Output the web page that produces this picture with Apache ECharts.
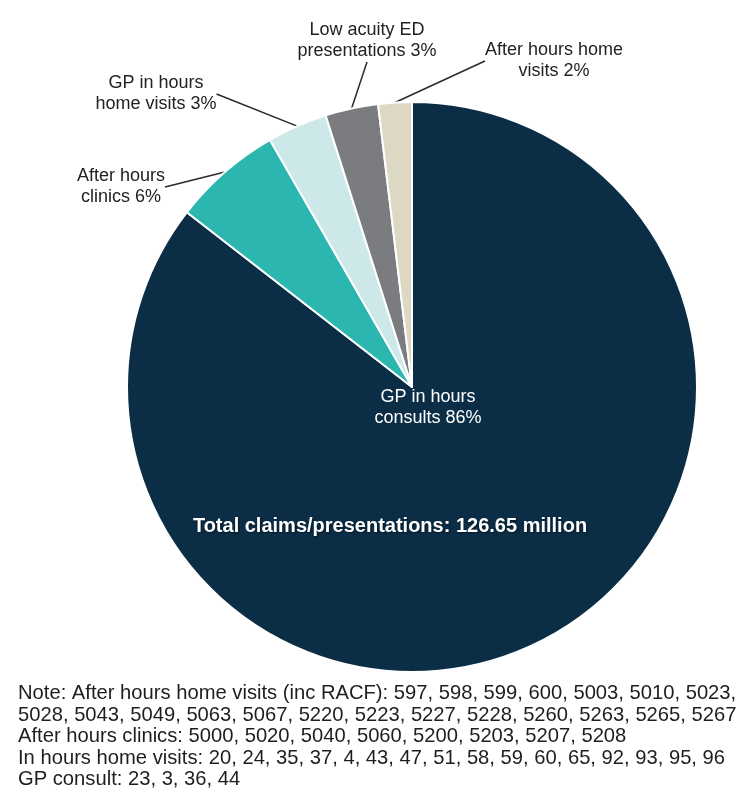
<!DOCTYPE html>
<html>
<head>
<meta charset="utf-8">
<script src="https://cdn.jsdelivr.net/npm/echarts@6/dist/echarts.min.js"></script>
<style>
  html, body { margin: 0; padding: 0; background: #ffffff; }
  #chart { width: 756px; height: 798px; }
</style>
</head>
<body>
<div id="chart"></div>
<script>
// ---- data ----
const categories = [
  'GP in hours\nconsults',
  'After hours\nclinics',
  'GP in hours\nhome visits',
  'Low acuity ED\npresentations',
  'After hours home\nvisits'
];
const shares = [85.5, 6.2, 3.4, 3.0, 1.9];
const sliceColors = ['#0b2e46', '#2bb7af', '#cde8e9', '#7b7c80', '#ddd8c3'];
const totalText = 'Total claims/presentations: 126.65 million';
const noteLines = [
  'Note: After hours home visits (inc RACF): 597, 598, 599, 600, 5003, 5010, 5023,',
  '5028, 5043, 5049, 5063, 5067, 5220, 5223, 5227, 5228, 5260, 5263, 5265, 5267',
  'After hours clinics: 5000, 5020, 5040, 5060, 5200, 5203, 5207, 5208',
  'In hours home visits: 20, 24, 35, 37, 4, 43, 47, 51, 58, 59, 60, 65, 92, 93, 95, 96',
  'GP consult: 23, 3, 36, 44'
];

// ---- layout (label placement, not data) ----
const labelPlacement = [
  [428, 408],
  [121, 187],
  [156, 94],
  [367, 41],
  [554, 61]
];

const chart = echarts.init(document.getElementById('chart'), null, { renderer: 'canvas' });

const pieData = categories.map((name, i) => ({
  name: name,
  value: shares[i],
  itemStyle: { color: sliceColors[i] },
  label: i === 0 ? { color: '#ffffff' } : { color: '#222222' },
  labelLine: { show: i !== 0 }
}));

chart.setOption({
  backgroundColor: '#ffffff',
  animation: false,
  series: [{
    type: 'pie',
    z: 2,
    center: [412, 387],
    radius: [0, 285],
    startAngle: 90,
    clockwise: true,
    percentPrecision: 0,
    avoidLabelOverlap: false,
    itemStyle: { borderColor: '#ffffff', borderWidth: 2 },
    label: {
      show: true,
      position: 'outside',
      formatter: '{b} {d}%',
      fontFamily: '"Liberation Sans", Arial, sans-serif',
      fontSize: 18,
      lineHeight: 21,
      align: 'center'
    },
    labelLine: {
      show: true,
      length: 10,
      length2: 0,
      smooth: false,
      lineStyle: { color: '#2a2a2a', width: 1.5 }
    },
    labelLayout: function (params) {
      const p = labelPlacement[params.dataIndex];
      return { x: p[0], y: p[1], align: 'center', verticalAlign: 'middle' };
    },
    emphasis: { disabled: true },
    data: pieData
  }],
  graphic: {
    elements: [
      {
        type: 'text',
        z: 100,
        x: 390,
        y: 526,
        style: {
          text: totalText,
          fill: '#ffffff',
          font: 'bold 20px "Liberation Sans", Arial, sans-serif',
          textAlign: 'center',
          textVerticalAlign: 'middle',
          textShadowColor: 'rgba(0,0,0,0.5)',
          textShadowBlur: 2,
          textShadowOffsetX: 1,
          textShadowOffsetY: 1
        }
      },
      {
        type: 'text',
        z: 100,
        x: 18,
        y: 683,
        style: {
          text: noteLines.join('\n'),
          fill: '#1e1e1e',
          font: '20.2px "Liberation Sans Narrow", "Liberation Sans", Arial, sans-serif',
          lineHeight: 21.5,
          textAlign: 'left',
          textVerticalAlign: 'top'
        }
      }
    ]
  }
});
</script>
</body>
</html>
